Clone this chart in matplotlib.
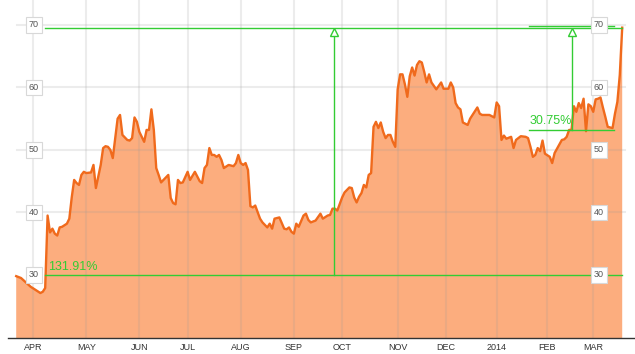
import numpy as np
import matplotlib
matplotlib.use("Agg")
import matplotlib.pyplot as plt
import matplotlib.transforms as mtransforms

plt.rcParams['font.family'] = ['Liberation Sans', 'DejaVu Sans']

# ---------------- data ----------------
holidays = ['2013-03-29', '2013-05-27', '2013-07-04', '2013-09-02', '2013-11-28',
            '2013-12-25', '2014-01-01', '2014-01-20', '2014-02-17']

dates = ['2013-03-20', '2013-03-22', '2013-03-26', '2013-03-28', '2013-04-02', '2013-04-04',
         '2013-04-05', '2013-04-08', '2013-04-09', '2013-04-10', '2013-04-11', '2013-04-12',
         '2013-04-15', '2013-04-16', '2013-04-17', '2013-04-19', '2013-04-22', '2013-04-23',
         '2013-04-24', '2013-04-25', '2013-04-26', '2013-04-29', '2013-04-30', '2013-05-01',
         '2013-05-03', '2013-05-06', '2013-05-07', '2013-05-09', '2013-05-10', '2013-05-13',
         '2013-05-14', '2013-05-15', '2013-05-16', '2013-05-20', '2013-05-21', '2013-05-22',
         '2013-05-24', '2013-05-28', '2013-05-29', '2013-05-30', '2013-05-31', '2013-06-03',
         '2013-06-05', '2013-06-06', '2013-06-07', '2013-06-10', '2013-06-11', '2013-06-12',
         '2013-06-13', '2013-06-14', '2013-06-18', '2013-06-19', '2013-06-20', '2013-06-21',
         '2013-06-24', '2013-06-25', '2013-06-26', '2013-06-27', '2013-07-01', '2013-07-02',
         '2013-07-05', '2013-07-09', '2013-07-10', '2013-07-11', '2013-07-12', '2013-07-15',
         '2013-07-16', '2013-07-17', '2013-07-18', '2013-07-19', '2013-07-22', '2013-07-23',
         '2013-07-25', '2013-07-29', '2013-07-30', '2013-07-31', '2013-08-01', '2013-08-02',
         '2013-08-05', '2013-08-06', '2013-08-07', '2013-08-08', '2013-08-09', '2013-08-13',
         '2013-08-14', '2013-08-15', '2013-08-16', '2013-08-19', '2013-08-20', '2013-08-21',
         '2013-08-23', '2013-08-27', '2013-08-28', '2013-08-29', '2013-08-30', '2013-09-03',
         '2013-09-04', '2013-09-05', '2013-09-09', '2013-09-10', '2013-09-11', '2013-09-12',
         '2013-09-16', '2013-09-18', '2013-09-19', '2013-09-23', '2013-09-24', '2013-09-25',
         '2013-09-26', '2013-09-27', '2013-10-01', '2013-10-02', '2013-10-04', '2013-10-07',
         '2013-10-08', '2013-10-09', '2013-10-10', '2013-10-11', '2013-10-14', '2013-10-15',
         '2013-10-16', '2013-10-17', '2013-10-18', '2013-10-21', '2013-10-22', '2013-10-23',
         '2013-10-24', '2013-10-25', '2013-10-28', '2013-10-29', '2013-10-30', '2013-10-31',
         '2013-11-01', '2013-11-04', '2013-11-05', '2013-11-06', '2013-11-07', '2013-11-08',
         '2013-11-11', '2013-11-12', '2013-11-13', '2013-11-14', '2013-11-15', '2013-11-18',
         '2013-11-19', '2013-11-20', '2013-11-21', '2013-11-25', '2013-11-27', '2013-11-29',
         '2013-12-03', '2013-12-04', '2013-12-05', '2013-12-06', '2013-12-09', '2013-12-10',
         '2013-12-11', '2013-12-13', '2013-12-16', '2013-12-17', '2013-12-19', '2013-12-20',
         '2013-12-23', '2013-12-26', '2013-12-27', '2013-12-31', '2014-01-02', '2014-01-03',
         '2014-01-06', '2014-01-07', '2014-01-08', '2014-01-10', '2014-01-13', '2014-01-14',
         '2014-01-16', '2014-01-21', '2014-01-22', '2014-01-23', '2014-01-24', '2014-01-27',
         '2014-01-28', '2014-01-29', '2014-01-30', '2014-01-31', '2014-02-04', '2014-02-05',
         '2014-02-06', '2014-02-10', '2014-02-11', '2014-02-12', '2014-02-13', '2014-02-14',
         '2014-02-18', '2014-02-19', '2014-02-20', '2014-02-21', '2014-02-24', '2014-02-25',
         '2014-02-26', '2014-02-27', '2014-02-28', '2014-03-03', '2014-03-04', '2014-03-05',
         '2014-03-06', '2014-03-07', '2014-03-10', '2014-03-11', '2014-03-12', '2014-03-13',
         '2014-03-14', '2014-03-17', '2014-03-18', '2014-03-19']

prices = [29.8, 29.5, 28.8, 28.1, 27.6, 27.1,
          27.3, 27.9, 39.5, 36.8, 37.4, 36.6,
          36.3, 37.6, 37.7, 38.2, 39.0, 42.4,
          45.2, 44.7, 44.4, 46.0, 46.5, 46.3,
          46.4, 47.6, 43.9, 47.6, 50.3, 50.6,
          50.5, 50.0, 48.7, 55.0, 55.6, 52.4,
          51.6, 51.5, 51.9, 55.2, 54.5, 52.9,
          51.3, 53.2, 53.2, 56.5, 53.2, 47.1,
          46.0, 44.8, 45.6, 46.0, 42.3, 41.5,
          41.3, 45.2, 44.7, 44.8, 46.5, 45.2,
          46.5, 45.0, 44.7, 47.1, 47.6, 50.3,
          49.2, 49.2, 48.9, 49.2, 48.4, 47.1,
          47.6, 47.4, 47.9, 49.2, 47.9, 47.6,
          47.9, 46.8, 41.0, 40.8, 41.1, 39.0,
          38.4, 38.0, 37.6, 38.2, 37.4, 39.0,
          39.2, 37.4, 37.3, 37.6, 36.9, 36.6,
          38.2, 37.7, 39.5, 39.8, 38.8, 38.4,
          38.7, 39.8, 39.0, 39.5, 39.6, 40.6,
          40.6, 40.3, 42.4, 43.2, 44.0, 43.9,
          42.4, 41.6, 42.5, 43.1, 44.4, 44.0,
          46.0, 46.3, 53.7, 54.5, 53.5, 54.4,
          52.9, 51.9, 52.4, 52.4, 51.3, 50.5,
          59.7, 62.1, 62.1, 60.5, 58.5, 61.8,
          63.2, 61.9, 63.6, 64.2, 64.0, 62.5,
          60.8, 62.1, 60.8, 59.7, 60.8, 59.8,
          59.8, 60.8, 60.0, 57.5, 56.8, 56.5,
          54.4, 54.0, 55.0, 55.6, 56.8, 55.8,
          55.6, 55.6, 55.6, 55.2, 57.6, 57.0,
          51.6, 52.3, 51.8, 52.1, 50.3, 51.6,
          52.2, 52.1, 51.9, 50.5, 48.9, 49.2,
          50.3, 49.8, 51.5, 49.4, 48.9, 47.9,
          49.5, 50.9, 51.6, 51.7, 52.1, 53.2,
          53.21, 57.0, 56.1, 57.5, 56.7, 58.2,
          53.0, 57.3, 57.0, 56.1, 58.1, 58.2,
          58.4, 56.8, 55.3, 53.7, 53.6, 53.5,
          55.8, 57.7, 62.0, 69.57]

month_labels = ['APR', 'MAY', 'JUN', 'JUL', 'AUG', 'SEP', 'OCT', 'NOV', 'DEC', '2014', 'FEB', 'MAR']
month_starts = ['2013-04-01', '2013-05-01', '2013-06-03', '2013-07-01', '2013-08-01', '2013-09-03',
                '2013-10-01', '2013-11-01', '2013-12-02', '2014-01-02', '2014-02-03', '2014-03-03']
y_ticks = [30, 40, 50, 60, 70]

ann1_base_date = '2013-04-08'
ann1_base = 30.0
ann1_label = '131.91%'
ann2_base_date = '2014-02-18'
ann2_base = 53.21
ann2_label = '30.75%'
end_value = prices[-1]

# ---------------- helpers ----------------
origin = '2013-04-01'
def tindex(d):
    return np.busday_count(origin, np.array(d, dtype='datetime64[D]'), holidays=holidays)

t = tindex(dates).astype(float)
mt = tindex(month_starts).astype(float)
t_end = t[-1]
t_a1 = float(tindex([ann1_base_date])[0])
t_a2 = float(tindex([ann2_base_date])[0])

# ---------------- figure ----------------
W, H = 635, 354
fig = plt.figure(figsize=(W / 100, H / 100), dpi=100)
ax = fig.add_axes([8 / W, 16 / H, 627 / W, 338 / H])
ax.set_xlim(-10.4, 249.3)
ax.set_ylim(19.9, 74.0)

line_c = '#F06A1C'
fill_c = '#FCAD7E'
green = '#33CC33'

ax.fill_between(t, prices, 0, color=fill_c, lw=0, zorder=1)
ax.plot(t, prices, color=line_c, lw=1.7, zorder=4, solid_joinstyle='round')

# gridlines
for x in mt:
    ax.axvline(x, color='#999999', alpha=0.18, lw=1.5, zorder=2)
for y in y_ticks[1:]:
    ax.axhline(y, xmin=9 / 627, xmax=617 / 627, color='#999999', alpha=0.18, lw=1.5, zorder=2)

# axis styling
for s in ['top', 'left', 'right']:
    ax.spines[s].set_visible(False)
ax.spines['bottom'].set_color('#333333')
ax.spines['bottom'].set_linewidth(1.0)
ax.spines['bottom'].set_zorder(6)
ax.set_xticks(mt)
ax.set_xticklabels(month_labels, fontsize=6.5, color='#333333')
ax.tick_params(axis='x', length=0, pad=3.5)
ax.set_yticks([])

# boxed y labels on both sides
trans = mtransforms.blended_transform_factory(ax.transAxes, ax.transData)
for y in y_ticks:
    for xf in (26 / 627, 591 / 627):
        ax.text(xf, y, str(y), transform=trans, fontsize=6.5, color='#555555',
                ha='center', va='center', zorder=7,
                bbox=dict(boxstyle='square,pad=0.35', fc='white', ec='#d8d8d8', lw=0.8))

# annotation 1
mid1 = (t_a1 + t_end) / 2
ax.plot([t_a1, t_end], [ann1_base, ann1_base], color=green, lw=1, zorder=5)
ax.plot([t_a1, t_end], [end_value, end_value], color=green, lw=1, zorder=5)
ax.plot([mid1, mid1], [ann1_base, end_value - 0.8], color=green, lw=1, zorder=5)
ax.plot([mid1], [end_value - 0.75], marker='^', ms=6, mfc='white', mec=green, mew=1, zorder=6)
ax.text(t_a1 + 1.2, ann1_base + 0.8, ann1_label, color=green, fontsize=9,
        ha='left', va='baseline', zorder=6)

# annotation 2
half2 = 17.5
ax.plot([t_a2 - half2, t_a2 + half2], [ann2_base, ann2_base], color=green, lw=1, zorder=5)
ax.plot([t_a2 - half2, t_a2 + half2], [end_value + 0.25, end_value + 0.25], color=green, lw=1, zorder=5)
ax.plot([t_a2, t_a2], [ann2_base, end_value - 0.8], color=green, lw=1, zorder=5)
ax.plot([t_a2], [end_value - 0.75], marker='^', ms=6, mfc='white', mec=green, mew=1, zorder=6)
ax.text(t_a2 - half2 + 0.3, ann2_base + 0.9, ann2_label, color=green, fontsize=9,
        ha='left', va='baseline', zorder=6)

fig.savefig('out.png', dpi=100)
